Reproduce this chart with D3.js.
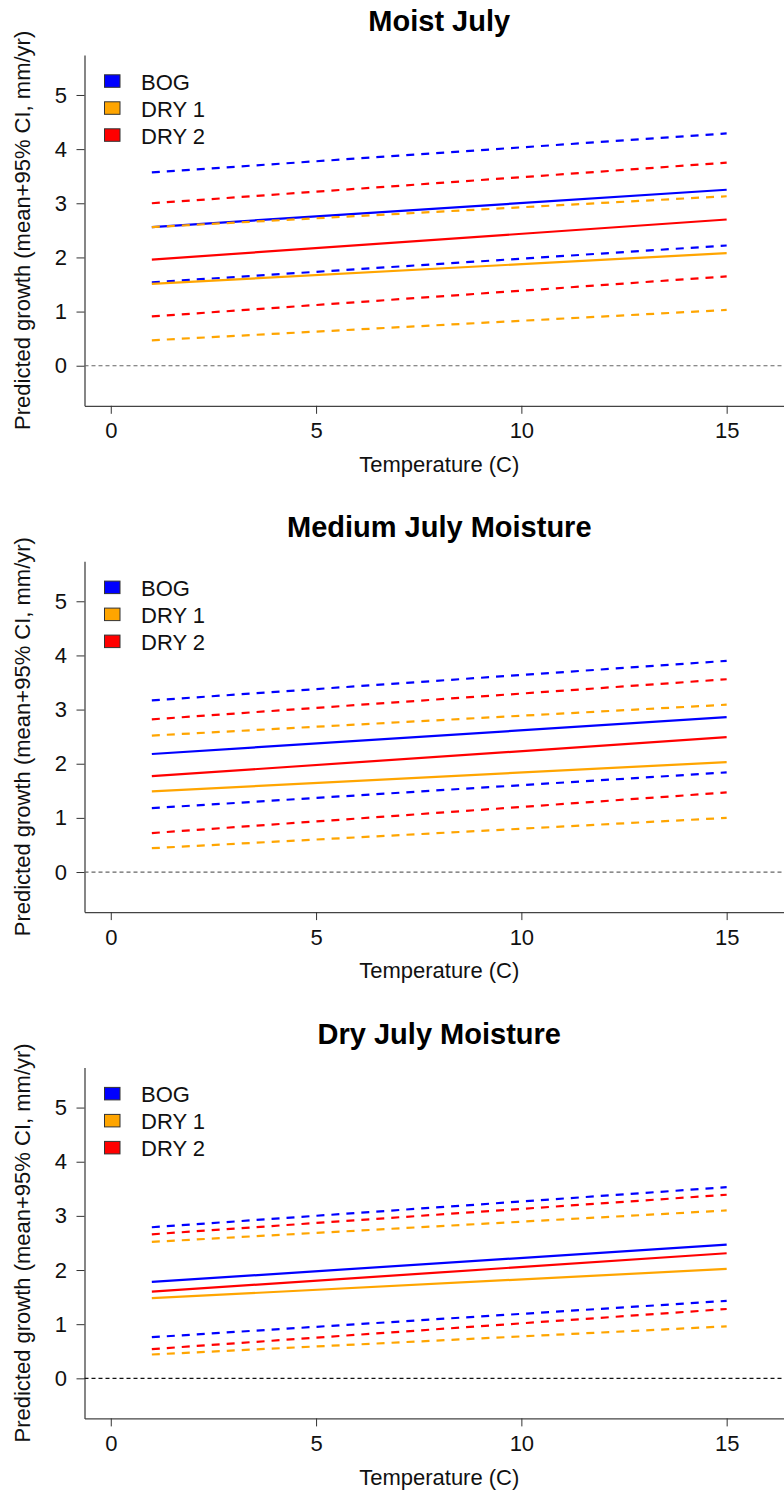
<!DOCTYPE html>
<html>
<head>
<meta charset="utf-8">
<script src="https://cdn.jsdelivr.net/npm/d3@7"></script>
<style>
  body { margin: 0; background: #fff; }
  svg { display: block; font-family: "Liberation Sans", Arial, sans-serif; }
</style>
</head>
<body>
<div id="chart"></div>
<script>
// panel titles
const titles = ["Moist July", "Medium July Moisture", "Dry July Moisture"];

// site names + colours for legend
const sites = ["BOG", "DRY 1", "DRY 2"];
const siteColors = ["#0000ff", "#ffa500", "#ff0000"];

// predictions are straight lines, read at temperature 1 and 15
const tempEnds = [1, 15];

// [start, end] per panel, per site
const meanVals = [
    [[2.56, 3.25], [1.51, 2.08], [1.96, 2.70]],
    [[2.18, 2.86], [1.49, 2.03], [1.77, 2.49]],
    [[1.78, 2.47], [1.48, 2.02], [1.60, 2.31]]
];
const lowerVals = [
    [[1.54, 2.22], [0.47, 1.03], [0.91, 1.65]],
    [[1.18, 1.84], [0.44, 1.00], [0.72, 1.47]],
    [[0.76, 1.43], [0.44, 0.96], [0.54, 1.28]]
];
const upperVals = [
    [[3.57, 4.29], [2.56, 3.13], [3.00, 3.75]],
    [[3.17, 3.90], [2.52, 3.09], [2.82, 3.56]],
    [[2.79, 3.53], [2.52, 3.10], [2.66, 3.39]]
];

const xTicks = [0, 5, 10, 15];
const yTicks = [0, 1, 2, 3, 4, 5];

// dimensions
const width = 784, height = 1492;
const panelStep = 506.3;
const margin = { top: 54.9, bottom: 405.8, left: 84.5, right: 794 };
const labelSize = "22px";

const svg = d3.select("#chart")
    .append("svg")
    .attr("width", width)
    .attr("height", height);

const x = d3.scaleLinear().domain([-0.64, 16.64]).range([margin.left, margin.right]);

const line = (y) => d3.line()
    .x(d => x(d[0]))
    .y(d => y(d[1]));

titles.forEach((title, i) => {
    const g = svg.append("g").attr("transform", "translate(0," + (i * panelStep) + ")");
    const y = d3.scaleLinear().domain([-0.74, 5.74]).range([margin.bottom, margin.top]);
    const cx = (margin.left + margin.right) / 2;

    // title
    g.append("text")
        .attr("x", cx)
        .attr("y", 31)
        .attr("text-anchor", "middle")
        .style("font-size", "29px")
        .style("font-weight", "bold")
        .text(title);

    // axes
    const yAxis = g.append("g")
        .attr("transform", "translate(" + margin.left + ",0)")
        .call(d3.axisLeft(y).tickValues(yTicks).tickFormat(d3.format("d"))
            .tickSize(8).tickSizeOuter(0).tickPadding(9.5));
    const xAxis = g.append("g")
        .attr("transform", "translate(0," + margin.bottom + ")")
        .call(d3.axisBottom(x).tickValues(xTicks).tickFormat(d3.format("d"))
            .tickSize(8).tickSizeOuter(0).tickPadding(8.8));
    [yAxis, xAxis].forEach(a => {
        a.selectAll("text").style("font-size", labelSize).attr("fill", "#111")
            .style("font-family", "'Liberation Sans', Arial, sans-serif");
        a.selectAll("line").attr("stroke", "#333");
        a.select(".domain").attr("stroke", "#444").attr("stroke-width", 1.3);
    });

    // axis labels
    g.append("text")
        .attr("transform", "translate(30," + ((margin.top + margin.bottom) / 2) + ") rotate(-90)")
        .attr("text-anchor", "middle")
        .style("font-size", labelSize)
        .attr("fill", "#111")
        .text("Predicted growth (mean+95% CI, mm/yr)");
    g.append("text")
        .attr("x", cx)
        .attr("y", 472)
        .attr("text-anchor", "middle")
        .style("font-size", labelSize)
        .attr("fill", "#111")
        .text("Temperature (C)");

    // zero reference
    g.append("line")
        .attr("x1", margin.left).attr("x2", margin.right)
        .attr("y1", y(0)).attr("y2", y(0))
        .attr("stroke", i === 2 ? "#111" : "#666")
        .attr("stroke-width", 1.2)
        .attr("stroke-dasharray", "4,3");

    // prediction lines
    const plotG = g.append("g");
    sites.forEach((s, j) => {
        const sets = [
            { vals: upperVals[i][j], dash: "8,7" },
            { vals: lowerVals[i][j], dash: "8,7" },
            { vals: meanVals[i][j], dash: null }
        ];
        sets.forEach(set => {
            const pts = tempEnds.map((t, k) => [t, set.vals[k]]);
            plotG.append("path")
                .attr("d", line(y)(pts))
                .attr("fill", "none")
                .attr("stroke", siteColors[j])
                .attr("stroke-width", 2.2)
                .attr("stroke-dasharray", set.dash);
        });
    });

    // legend
    const leg = g.append("g");
    sites.forEach((s, j) => {
        const cy = 81 + j * 27;
        leg.append("rect")
            .attr("x", 104.5)
            .attr("y", cy - 6.2)
            .attr("width", 15.5)
            .attr("height", 12.5)
            .attr("fill", siteColors[j])
            .attr("stroke", "#333")
            .attr("stroke-width", 1);
        leg.append("text")
            .attr("x", 141)
            .attr("y", cy + 8.5)
            .style("font-size", labelSize)
            .attr("fill", "#111")
            .text(s);
    });
});
</script>
</body>
</html>
